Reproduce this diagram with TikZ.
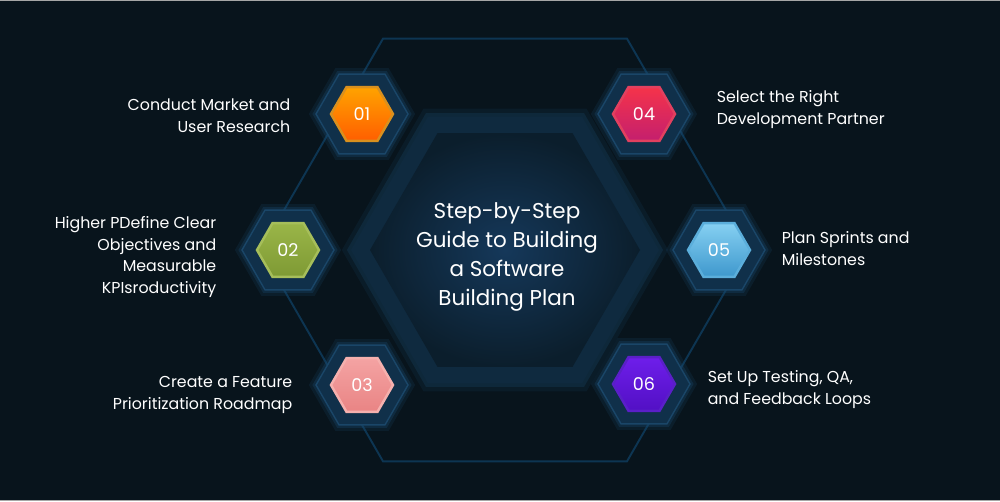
\documentclass[tikz,border=0pt]{standalone}
\usepackage{fontspec}
\setmainfont{Poppins}
\usetikzlibrary{shapes.geometric,positioning}

\definecolor{bgnavy}{HTML}{08141C}
\definecolor{framec}{HTML}{0D3552}
\definecolor{rimc}{HTML}{0F2A3F}
\definecolor{corec}{HTML}{15385A}
\definecolor{glowc}{HTML}{1B4C72}
\definecolor{halofill}{HTML}{10304A}
\definecolor{haloedge}{HTML}{1A4668}
% badge colours: top, bottom, ring
\definecolor{oneTop}{HTML}{FFA300}   \definecolor{oneBot}{HTML}{FF5E00}   \definecolor{oneRing}{HTML}{D9901E}
\definecolor{twoTop}{HTML}{9AB548}   \definecolor{twoBot}{HTML}{7E9A34}   \definecolor{twoRing}{HTML}{A6BE5A}
\definecolor{threeTop}{HTML}{F4A3A3} \definecolor{threeBot}{HTML}{E98484} \definecolor{threeRing}{HTML}{F5B0AE}
\definecolor{fourTop}{HTML}{F5334A}  \definecolor{fourBot}{HTML}{C41F6E}  \definecolor{fourRing}{HTML}{E2405F}
\definecolor{fiveTop}{HTML}{86D0F2}  \definecolor{fiveBot}{HTML}{3E98CD}  \definecolor{fiveRing}{HTML}{5BAEDB}
\definecolor{sixTop}{HTML}{6E1EEA}   \definecolor{sixBot}{HTML}{5210C4}   \definecolor{sixRing}{HTML}{5A1FC8}

\begin{document}
\begin{tikzpicture}[
  x=0.2mm, y=-0.2mm,
  hexa/.style={regular polygon, regular polygon sides=6, inner sep=0pt},
  halo/.style={hexa, minimum size=18.4mm, fill=halofill, draw=haloedge, line width=0.8pt,
               preaction={draw=glowc, line width=7pt, opacity=0.18},
               preaction={draw=glowc, line width=3.5pt, opacity=0.3}},
  badge/.style={hexa, minimum size=12.4mm, line width=1.4pt, text=white,
                font=\fontsize{10}{12}\selectfont},
  note/.style={text=white, inner sep=0pt, font=\fontsize{9}{12.5}\selectfont}
]
\useasboundingbox (0,0) rectangle (1000,501);
\fill[bgnavy] (0,0) rectangle (1000,501);
\fill[gray!70] (0,0) rectangle (1000,1.2);
\fill[gray!70] (0,499.8) rectangle (1000,501);

% big hexagon behind the steps
\node[hexa, minimum size=97.6mm, draw=framec, line width=1.1pt] (frame) at (505,250) {};

% centre
\node[hexa, minimum size=61.6mm, fill=rimc,
      preaction={draw=glowc, line width=9pt, opacity=0.15},
      preaction={draw=glowc, line width=4pt, opacity=0.25}] (rim) at (505,250) {};
\node[hexa, minimum size=54mm, inner color=corec, outer color=bgnavy!55!rimc] (core) at (505,250) {};
\node[text=white, align=center, font=\fontsize{12.2}{16.4}\selectfont] (title) at (507,257)
  {Step-by-Step\\Guide to Building\\a Software\\Building Plan};

% steps
\node[halo] (halo01) at (362,114) {};
\node[halo] (halo02) at (288,250) {};
\node[halo] (halo03) at (362,385) {};
\node[halo] (halo04) at (644,114) {};
\node[halo] (halo05) at (719,250) {};
\node[halo] (halo06) at (644,384) {};

\node[badge, top color=oneTop, bottom color=oneBot, draw=oneRing] (step01) at (halo01) {01};
\node[badge, top color=twoTop, bottom color=twoBot, draw=twoRing] (step02) at (halo02) {02};
\node[badge, top color=threeTop, bottom color=threeBot, draw=threeRing] (step03) at (halo03) {03};
\node[badge, top color=fourTop, bottom color=fourBot, draw=fourRing] (step04) at (halo04) {04};
\node[badge, top color=fiveTop, bottom color=fiveBot, draw=fiveRing] (step05) at (halo05) {05};
\node[badge, top color=sixTop, bottom color=sixBot, draw=sixRing] (step06) at (halo06) {06};

\node[note, align=right, left=7.8mm of step01, yshift=-0.4mm] (research) {Conduct Market and\\User Research};
\node[note, align=right, left=7.8mm of step02, yshift=-1.4mm] (objectives) {Higher PDefine Clear\\Objectives and\\Measurable\\KPIsroductivity};
\node[note, align=right, left=7.4mm of step03, yshift=-2mm] (roadmap) {Create a Feature\\Prioritization Roadmap};
\node[note, align=left, right=8mm of step04, yshift=0.8mm] (partner) {Select the Right\\Development Partner};
\node[note, align=left, right=6mm of step05, yshift=0.2mm] (sprints) {Plan Sprints and\\Milestones};
\node[note, align=left, right=6.2mm of step06, yshift=-1.2mm] (testing) {Set Up Testing, QA,\\and Feedback Loops};
\end{tikzpicture}
\end{document}
